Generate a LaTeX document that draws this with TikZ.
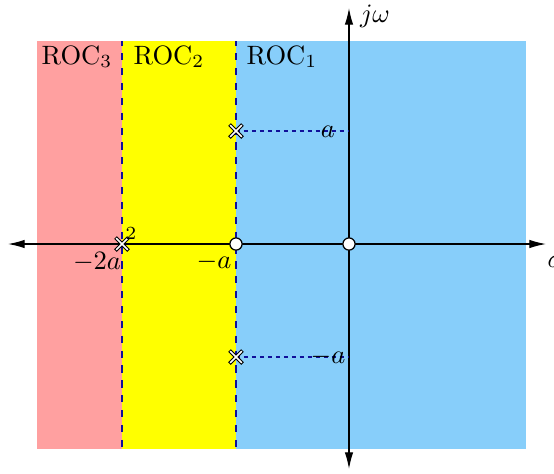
\documentclass[tikz,border=0pt]{standalone}
\usetikzlibrary{arrows.meta,calc}
\definecolor{rocpink}{HTML}{FFA0A0}
\definecolor{rocyellow}{HTML}{FFFF00}
\definecolor{rocblue}{HTML}{87CEFA}
\definecolor{dashblue}{HTML}{10109A}
\begin{document}
\begin{tikzpicture}[x=0.3766pt,y=-0.3766pt,
  axis/.style={line width=0.45pt,-{Latex[length=6.3pt,width=3.2pt]}},
  bound/.style={dashblue,line width=0.75pt,dash pattern=on 2.7pt off 2.9pt,dash phase=1pt},
  guide/.style={dashblue,line width=0.75pt,dash pattern=on 1.5pt off 1.5pt},
  zero/.style={circle,draw=black,fill=white,line width=0.45pt,minimum size=4.6pt,inner sep=0pt},
  lbl/.style={inner sep=0pt}]
\useasboundingbox (0,0) rectangle (554,473);
\fill[white] (0,0) rectangle (554,473);
% regions
\fill[rocpink] (37,41) rectangle (122,449);
\fill[rocyellow] (122,41) rectangle (236,449);
\fill[rocblue] (236,41) rectangle (526,449);
% coordinates
\coordinate (O) at (349,244);
\coordinate (p1) at (236,131);
\coordinate (p2) at (236,357);
\coordinate (p3) at (122,244);
\coordinate (b1t) at (122,41);
\coordinate (b1b) at (122,449);
\coordinate (b2t) at (236,41);
\coordinate (b2b) at (236,449);
\coordinate (xl) at (8,244);
\coordinate (xr) at (546,244);
\coordinate (yt) at (349,8);
\coordinate (yb) at (349,469);
% boundaries
\draw[bound] (b1t) -- (b1b);
\draw[bound] (b2t) -- (b2b);
% axes
\draw[axis] (O) -- (xr);
\draw[axis] (O) -- (xl);
\draw[axis] (O) -- (yt);
\draw[axis] (O) -- (yb);
% guides
\draw[guide] (p1) -- (p1 -| O);
\draw[guide] (p2) -- (p2 -| O);
% zeros
\node[zero] (z1) at (236,244) {};
\node[zero] (z2) at (O) {};
% poles
\foreach \p in {p1,p2,p3}{
  \draw[black,line width=1.4pt] ($(\p)+(-6.5,-6.5)$) -- ($(\p)+(6.5,6.5)$) ($(\p)+(-6.5,6.5)$) -- ($(\p)+(6.5,-6.5)$);
  \draw[white,line width=0.55pt] ($(\p)+(-5.8,-5.8)$) -- ($(\p)+(5.8,5.8)$) ($(\p)+(-5.8,5.8)$) -- ($(\p)+(5.8,-5.8)$);
}
% labels
\node[lbl,anchor=base] (r3) at (77,64) {ROC$_3$};
\node[lbl,anchor=base] (r2) at (169,64) {ROC$_2$};
\node[lbl,anchor=base] (r1) at (282,64) {ROC$_1$};
\node[lbl] (jw) at (375,16) {$j\omega$};
\node[lbl,anchor=west] (sg) at (547,262) {$\sigma$};
\node[lbl] (m2a) at (97,262) {$-2a$};
\node[lbl] (ma) at (214,262) {$-a$};
\node[lbl] (two) at (131,234) {\scriptsize $2$};
\node[lbl] (ia) at (328,132) {$a$};
\node[lbl] (ima) at (328,357) {$-a$};
\end{tikzpicture}
\end{document}
